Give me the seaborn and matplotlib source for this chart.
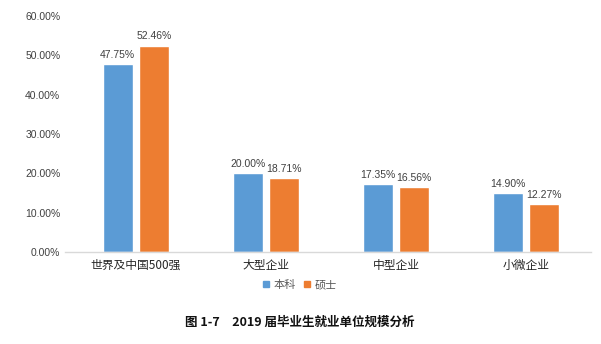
import matplotlib
matplotlib.use("Agg")
import matplotlib.pyplot as plt
import seaborn as sns
import pandas as pd
from matplotlib.patches import Patch

categories = ["世界及中国500强", "大型企业", "中型企业", "小微企业"]
series_names = ["本科", "硕士"]
benke = [47.75, 20.00, 17.35, 14.90]
shuoshi = [52.46, 18.71, 16.56, 12.27]
yticks = [0, 10, 20, 30, 40, 50, 60]
caption = "图 1-7　2019 届毕业生就业单位规模分析"

sns.set_theme(style="white")
plt.rcParams['font.family'] = ['Liberation Sans', 'Noto Sans CJK SC', 'DejaVu Sans']

df = pd.DataFrame({
    "category": categories * 2,
    "series": [series_names[0]] * 4 + [series_names[1]] * 4,
    "value": benke + shuoshi,
})

fig = plt.figure(figsize=(6.01, 3.44), dpi=100)
ax = fig.add_axes([64.5/601, 1-252/344, 526.5/601, 236/344])

palette = {"本科": "#5B9BD5", "硕士": "#ED7D31"}
sns.barplot(data=df, x="category", y="value", hue="series", palette=palette,
            width=0.56, gap=0.19, ax=ax, legend=False, saturation=1)

for cont in ax.containers:
    ax.bar_label(cont, labels=[f"{v:.2f}%" for v in cont.datavalues],
                 padding=3, fontsize=7.5, color="#404040")

ax.set_ylim(0, 60)
ax.set_xlim(-0.55, 3.5)
ax.set_yticks(yticks)
ax.set_yticklabels([f"{t:.2f}%" for t in yticks], fontsize=7.5, color="#404040")
ax.set_xticklabels(categories, fontsize=8.5, color="#262626",
                   family=['Noto Sans CJK SC', 'DejaVu Sans'])
ax.set_xlabel("")
ax.set_ylabel("")
ax.tick_params(axis="y", length=0, pad=3)
ax.tick_params(axis="x", length=0, pad=5)
for s in ["top", "right", "left"]:
    ax.spines[s].set_visible(False)
ax.spines["bottom"].set_color("#D9D9D9")
ax.spines["bottom"].set_linewidth(1)

handles = [Patch(color=palette[n], label=n) for n in series_names]
fig.legend(handles=handles, loc="center", bbox_to_anchor=(300/601, 1-285/344),
           ncol=2, frameon=False, handlelength=0.5, handleheight=0.5,
           handletextpad=0.4, columnspacing=0.8, labelcolor="#595959",
           prop={'family': ['Noto Sans CJK SC', 'DejaVu Sans'], 'size': 8})

fig.text(300/601, 1-322/344, caption, ha="center", va="center", fontsize=9,
         fontweight="bold", color="#111111",
         family=['Noto Sans CJK SC', 'DejaVu Sans'])

fig.savefig("out.png", dpi=100)
